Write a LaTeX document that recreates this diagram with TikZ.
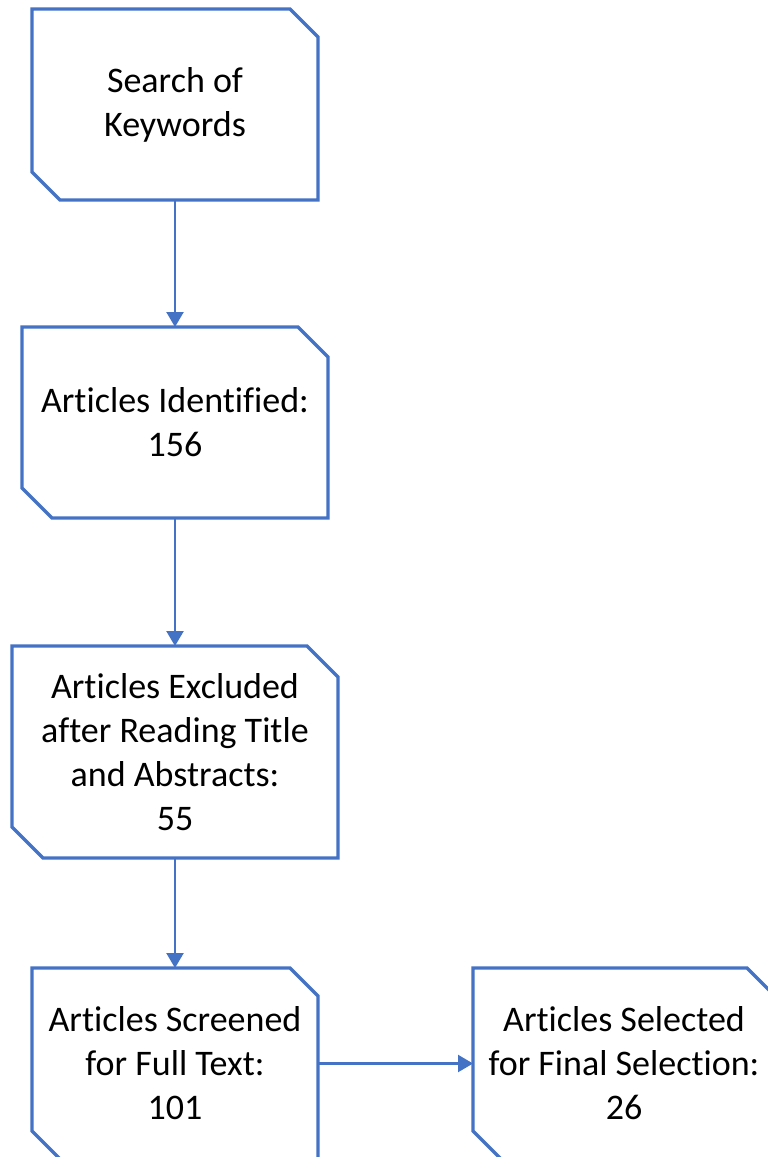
\documentclass[tikz,border=0pt]{standalone}
\usepackage{fontspec}
\setmainfont{Carlito}[Ligatures={NoCommon,NoRare,NoDiscretionary}]
\usetikzlibrary{arrows.meta,calc}
\definecolor{flowblue}{HTML}{4472C4}

% outline of a rectangle with snipped top-right and bottom-left corners
\newcommand\snipoutline[2]{%
  \draw[boxline] (#1.north west) -- ($(#1.north east)+(-#2,0)$) -- ($(#1.north east)+(0,#2)$)
    -- (#1.south east) -- ($(#1.south west)+(#2,0)$) -- ($(#1.south west)+(0,-#2)$) -- cycle;}

\tikzset{
  flowbox/.style={rectangle, inner sep=0pt, outer sep=0pt, align=center,
    font=\fontsize{36}{44}\selectfont, text=black},
  boxline/.style={draw=flowblue, line width=3.4pt, line join=miter},
  flowarrow/.style={draw=flowblue, line width=2.3pt, -{Triangle[length=15pt,width=17pt]}}
}

\begin{document}
\begin{tikzpicture}[x=1pt,y=-1pt]
  \clip (0,0) rectangle (768,1157);
  \fill[white] (0,0) rectangle (768,1157);

  \node[flowbox, minimum width=286, minimum height=191] (kw) at (175,104.5) {Search of\\Keywords};
  \node[flowbox, minimum width=306, minimum height=191] (ident) at (175,422.5) {Articles Identified:\\156};
  \node[flowbox, minimum width=326, minimum height=212] (excl) at (175,752) {Articles Excluded\\after Reading Title\\and Abstracts:\\55};
  \node[flowbox, minimum width=286, minimum height=191] (screen) at (175,1063.5) {Articles Screened\\for Full Text:\\101};
  \node[flowbox, minimum width=302, minimum height=191] (final) at (624,1063.5) {Articles Selected\\for Final Selection:\\26};

  \snipoutline{kw}{28}
  \snipoutline{ident}{30}
  \snipoutline{excl}{31}
  \snipoutline{screen}{28}
  \snipoutline{final}{28}

  \draw[flowarrow] (kw) -- (ident);
  \draw[flowarrow] (ident) -- (excl);
  \draw[flowarrow] (excl) -- (screen);
  \draw[flowarrow] (screen) -- (final);
\end{tikzpicture}
\end{document}
